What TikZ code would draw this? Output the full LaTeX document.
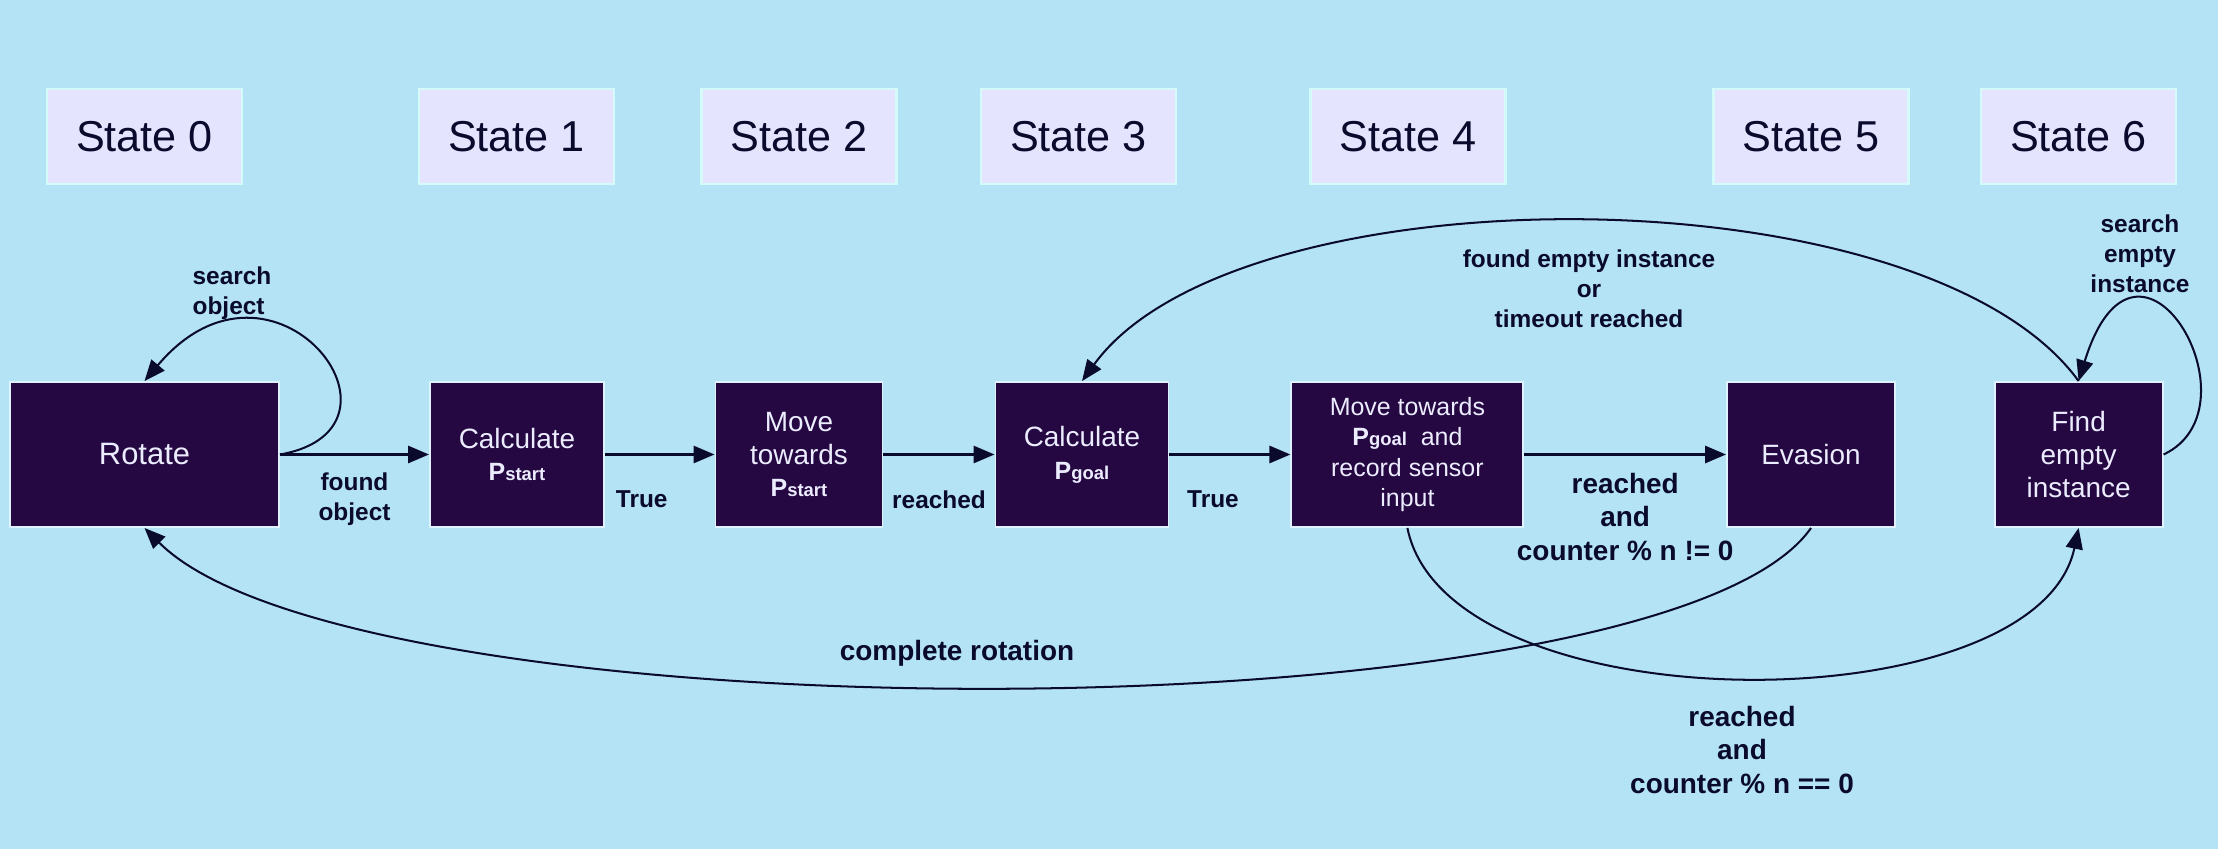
\documentclass[tikz,border=0pt]{standalone}
\usepackage{fontspec}
\setmainfont{Liberation Sans}
\usepackage{xcolor}
\usepackage{tikz}
\usetikzlibrary{arrows.meta}

\definecolor{skyback}{RGB}{180,227,245}
\definecolor{statefill}{RGB}{228,228,255}
\definecolor{stateline}{RGB}{212,250,250}
\definecolor{boxfill}{RGB}{37,8,66}
\definecolor{boxline}{RGB}{222,242,255}
\definecolor{ink}{RGB}{10,10,45}
\definecolor{boxtext}{RGB}{236,236,255}

\newcommand{\Psub}[1]{{\fontsize{14.2}{17}\selectfont\bfseries P}{\fontsize{10.5}{12}\selectfont\bfseries #1}}

\begin{document}
\begin{tikzpicture}[x=0.02cm,y=-0.02cm,>={Triangle[length=0.42cm,width=0.34cm]},
  statebox/.style={draw=stateline,line width=1.2pt,fill=statefill,text=ink,
    minimum width=3.9cm,minimum height=1.9cm,inner sep=0pt,font=\fontsize{24.6}{28}\selectfont},
  stagebox/.style={draw=boxline,line width=1.1pt,fill=boxfill,text=boxtext,align=center,
    minimum height=2.9cm,inner sep=0pt,font=\fontsize{15.9}{18.6}\selectfont},
  lbl/.style={text=ink,align=center,inner sep=0pt,font=\bfseries\fontsize{13.9}{17}\selectfont},
  biglbl/.style={lbl,font=\bfseries\fontsize{15.9}{18.8}\selectfont},
  flow/.style={->,ink,line width=1.7pt},
  curvy/.style={->,ink,line width=1.15pt}]
\fill[skyback] (0,0) rectangle (2218,849);
\useasboundingbox (0,0) rectangle (2218,849);
\foreach \n/\x in {0/144.5,1/516.5,2/799,3/1078.5,4/1408,5/1811,6/2078.5}
  \node[statebox] (state\n) at (\x,136.5) {State \n};

\node[stagebox,minimum width=5.38cm,font=\fontsize{17.6}{20}\selectfont] (rotate) at (144.5,454.5) {Rotate};
\node[stagebox,minimum width=3.48cm] (pstart) at (517,454.5) {Calculate\\\Psub{start}};
\node[stagebox,minimum width=3.34cm] (movestart) at (799,454.5) {Move\\towards\\\Psub{start}};
\node[stagebox,minimum width=3.46cm] (pgoal) at (1082,454.5) {Calculate\\\Psub{goal}};
\node[stagebox,minimum width=4.64cm,font=\fontsize{14.2}{17.4}\selectfont] (movegoal) at (1407.4,454.5)
  {Move towards\\\Psub{goal}~~and\\record sensor\\input};
\node[stagebox,minimum width=3.36cm] (evasion) at (1811,454.5) {Evasion};
\node[stagebox,minimum width=3.36cm] (findempty) at (2078.6,454.5) {Find\\empty\\instance};

\draw[flow] (rotate) -- (pstart) node[lbl,midway,yshift=-0.9cm] (foundobj) {found\\object};
\draw[flow] (pstart) -- (movestart) node[lbl,midway,yshift=-0.9cm,xshift=-0.36cm] (truestart) {True};
\draw[flow] (movestart) -- (pgoal) node[lbl,midway,yshift=-0.9cm] (reachstart) {reached};
\draw[flow] (pgoal) -- (movegoal) node[lbl,midway,yshift=-0.9cm,xshift=-0.34cm] (truegoal) {True};
\draw[flow] (movegoal) -- (evasion) node[biglbl,midway,yshift=-1.25cm] (reachednot) {reached\\and\\counter \% n != 0};

\draw[curvy] (rotate.east) .. controls +(148,-26) and +(129,-153) .. (rotate.north);
\node[lbl,align=left] (searchobj) at (232,293) {search\\object};
\draw[curvy] (findempty.east) .. controls +(100,-47) and +(59,-191) .. (findempty.north);
\node[lbl] (searchempty) at (2140,254) {search\\empty\\instance};
\draw[curvy] (findempty.north) .. controls +(-155,-213) and +(155,-213) .. (pgoal.north);
\node[lbl] (foundempty) at (1589,289) {found empty instance\\or\\timeout reached};
\draw[curvy] (evasion.south) .. controls +(-148,212) and +(212,212) .. (rotate.south);
\node[biglbl] (complrot) at (957,653) {complete rotation};
\draw[curvy] (movegoal.south) .. controls +(40,199) and +(-42,199) .. (findempty.south);
\node[biglbl] (reachedzero) at (1742,750) {reached\\and\\counter \% n == 0};
\end{tikzpicture}
\end{document}
